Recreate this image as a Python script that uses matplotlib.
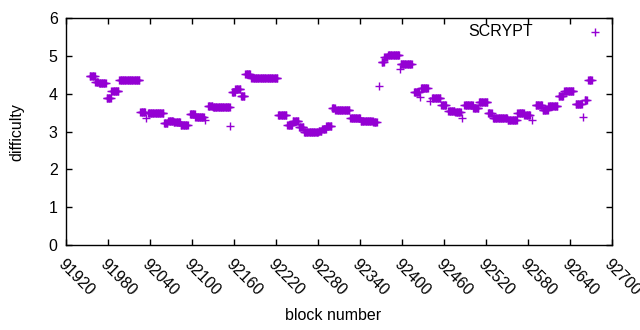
import numpy as np
import matplotlib
matplotlib.use("Agg")
import matplotlib.pyplot as plt
from matplotlib.lines import Line2D

# Runs of consecutive blocks sharing (approximately) the same difficulty
run_start = [91954, 91962, 91967, 91978, 91985, 91996, 92026, 92034, 92037, 92060, 92066,
             92074, 92084, 92097, 92105, 92118, 92123, 92130, 92155, 92157, 92162, 92170,
             92176, 92185, 92223, 92236, 92244, 92253, 92260, 92271, 92281, 92286, 92292,
             92300, 92305, 92326, 92341, 92359, 92367, 92371, 92375, 92380, 92397, 92398,
             92417, 92426, 92427, 92440, 92443, 92456, 92466, 92476, 92486, 92489, 92502,
             92510, 92523, 92530, 92551, 92565, 92575, 92586, 92591, 92601, 92609, 92624,
             92632, 92648, 92658, 92661, 92666]
run_end   = [91961, 91966, 91977, 91984, 91995, 92025, 92033, 92034, 92059, 92065, 92073,
             92083, 92094, 92104, 92117, 92118, 92129, 92154, 92155, 92161, 92169, 92175,
             92183, 92222, 92235, 92243, 92252, 92259, 92270, 92280, 92285, 92291, 92299,
             92304, 92325, 92340, 92358, 92364, 92367, 92374, 92379, 92396, 92397, 92414,
             92425, 92426, 92437, 92440, 92455, 92463, 92475, 92484, 92486, 92501, 92509,
             92522, 92528, 92550, 92564, 92574, 92583, 92586, 92600, 92608, 92622, 92630,
             92645, 92657, 92658, 92664, 92671]
run_value = [4.48, 4.31, 4.27, 3.89, 4.06, 4.36, 3.51, 3.36, 3.48, 3.22, 3.27,
             3.25, 3.16, 3.47, 3.38, 3.31, 3.68, 3.64, 3.15, 4.04, 4.13, 3.95,
             4.53, 4.41, 3.43, 3.16, 3.27, 3.12, 3.00, 2.98, 3.02, 3.06, 3.14,
             3.62, 3.56, 3.37, 3.29, 3.25, 4.19, 4.84, 4.97, 5.01, 4.66, 4.78,
             4.04, 3.91, 4.15, 3.80, 3.89, 3.69, 3.53, 3.51, 3.36, 3.69, 3.62,
             3.77, 3.49, 3.35, 3.31, 3.49, 3.43, 3.30, 3.69, 3.56, 3.67, 3.93,
             4.06, 3.72, 3.38, 3.82, 4.35]

blocks = []
diff = []
for s, e, v in zip(run_start, run_end, run_value):
    for b in range(s, e + 1):
        blocks.append(b)
        diff.append(v)

x_ticks = list(range(91920, 92701, 60))
y_ticks = [0, 1, 2, 3, 4, 5, 6]

plt.rcParams['font.family'] = ['Liberation Sans', 'DejaVu Sans']
FS = 11.5
PURPLE = '#9400D3'

fig = plt.figure(figsize=(6.4, 3.3), dpi=100)
ax = fig.add_axes([66/640, 1-245/330, (612-66)/640, (245-18)/330])

ax.plot(blocks, diff, linestyle='none', marker='+', color=PURPLE,
        markersize=5.5, markeredgewidth=1.0)

ax.set_xlim(91920, 92700)
ax.set_ylim(0, 6)
ax.set_xticks(x_ticks)
ax.set_yticks(y_ticks)
ax.set_xticklabels([str(t) for t in x_ticks], rotation=-45, ha='left', va='top',
                   rotation_mode='anchor')
ax.tick_params(direction='in', top=True, right=True, length=4, width=1,
               labelsize=FS, pad=6, colors='black')
ax.tick_params(axis='x', pad=8)
for sp in ax.spines.values():
    sp.set_linewidth(1)

fig.text(333/640, 1-315/330, 'block number', fontsize=FS, ha='center', va='center')
fig.text(17/640, 1-132/330, 'difficulty', fontsize=FS, ha='center', va='center',
         rotation=90)

# key (gnuplot style: text right-aligned, sample to the right)
fig.text(533/640, 1-31/330, 'SCRYPT', fontsize=FS, ha='right', va='center')
fig.add_artist(Line2D([595/640], [1-32/330], linestyle='none', marker='+',
                      color=PURPLE, markersize=5.5, markeredgewidth=1.0,
                      transform=fig.transFigure))

fig.savefig('out.png', dpi=100)
